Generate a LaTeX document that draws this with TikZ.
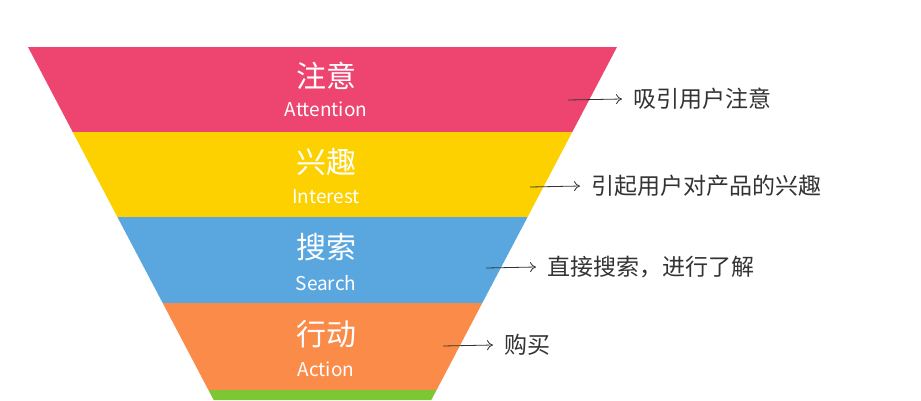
\documentclass[tikz,border=0pt]{standalone}
\usepackage{fontspec}
\setmainfont{Noto Sans CJK SC}
\usetikzlibrary{arrows.meta}
\definecolor{cpink}{HTML}{EE4470}
\definecolor{cyel}{HTML}{FDD000}
\definecolor{cblue}{HTML}{5AA7E0}
\definecolor{corg}{HTML}{FB8B48}
\definecolor{cgrn}{HTML}{7DC734}
\definecolor{ctxt}{HTML}{333333}
\begin{document}
\begin{tikzpicture}[x=1pt,y=-1pt,
  zh/.style={text=white,font=\fontsize{30}{30}\selectfont},
  en/.style={text=white,font=\fontsize{19}{19}\selectfont},
  lab/.style={text=ctxt,anchor=west,font=\fontsize{23}{23}\selectfont},
  arr/.style={-{To[length=6pt,width=10pt]},line width=0.8pt,ctxt}]
\useasboundingbox (0,0) rectangle (921,400);
\fill[white] (0,0) rectangle (921,400);
\fill[cpink] (28,47) -- (617,47) -- (572.3,132) -- (72.7,132) -- cycle;
\fill[cyel] (72.7,132) -- (572.3,132) -- (527.6,217) -- (117.4,217) -- cycle;
\fill[cblue] (117.4,217) -- (527.6,217) -- (482.3,303) -- (162.7,303) -- cycle;
\fill[corg] (162.7,303) -- (482.3,303) -- (436.6,390) -- (208.4,390) -- cycle;
\fill[cgrn] (208.4,390) -- (436.6,390) -- (431.3,400) -- (213.7,400) -- cycle;
\node[zh] (z1) at (326,76) {注意};
\node[en] (e1) at (326,109) {Attention};
\node[zh] (z2) at (326,162) {兴趣};
\node[en] (e2) at (326,197) {Interest};
\node[zh] (z3) at (326,247) {搜索};
\node[en] (e3) at (326,283) {Search};
\node[zh] (z4) at (326,334) {行动};
\node[en] (e4) at (326,369) {Action};
\coordinate (a1) at (568,100);
\coordinate (a2) at (530,187);
\coordinate (a3) at (486,268);
\coordinate (a4) at (443,346);
\node[lab] (l1) at (630,99) {吸引用户注意};
\node[lab] (l2) at (588,186) {引起用户对产品的兴趣};
\node[lab] (l3) at (544,267) {直接搜索，进行了解};
\node[lab] (l4) at (501,345) {购买};
\draw[arr] (a1) -- ([xshift=-8pt]l1.west);
\draw[arr] (a2) -- ([xshift=-8pt]l2.west);
\draw[arr] (a3) -- ([xshift=-8pt]l3.west);
\draw[arr] (a4) -- ([xshift=-8pt]l4.west);
\end{tikzpicture}
\end{document}
